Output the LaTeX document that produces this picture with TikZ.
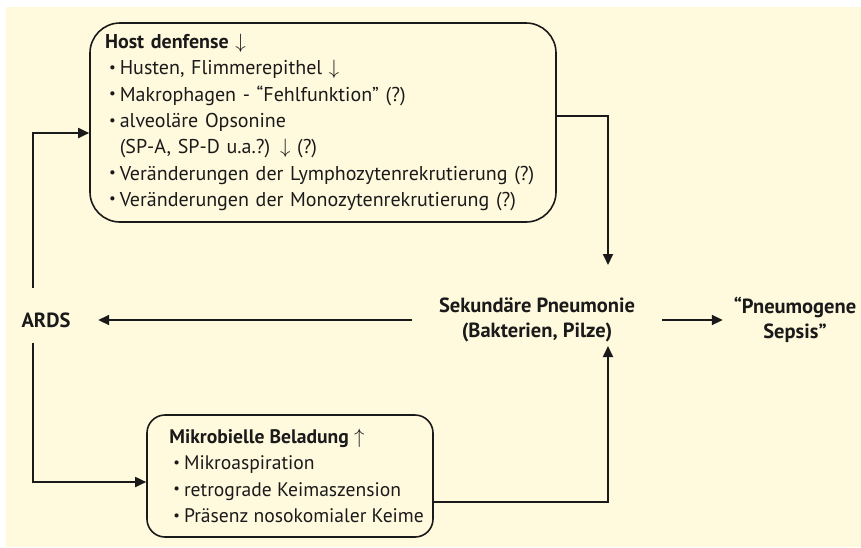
\documentclass[tikz,border=0pt]{standalone}
\usepackage{fontspec}
\usepackage{graphicx}
\setmainfont{PT Sans}
\usetikzlibrary{arrows.meta}
\definecolor{bgcream}{RGB}{255,250,222}
\definecolor{ink}{RGB}{26,26,26}
\tikzset{
  arr/.style={draw=ink, line width=1.8pt, -{Triangle[length=11pt,width=10pt]}},
  roundbox/.style={draw=ink, line width=1.6pt, align=left, inner ysep=0pt, text=ink, font=\fontsize{20}{26.3}\selectfont},
  boxtext/.style={align=left, inner sep=0pt, text=ink, font=\fontsize{19.6}{26.3}\selectfont},
  lbl/.style={align=center, inner sep=0pt, font=\bfseries\fontsize{20.5}{25}\selectfont, text=ink},
}
\newcommand{\bul}{\hspace*{4pt}\raisebox{2.5pt}{\scalebox{0.75}{\textbullet}}\kern4pt}
\newcommand{\bulgap}{\hspace*{4pt}\phantom{\scalebox{0.75}{\textbullet}}\kern4pt}
\begin{document}
\begin{tikzpicture}[x=1pt,y=-1pt]
\path[use as bounding box] (0,0) rectangle (861,547);
\fill[bgcream] (6,7) rectangle (861,547);

\node[roundbox, rounded corners=30pt, minimum width=466pt, minimum height=199pt,
      text width=436pt, inner xsep=15pt] (host) at (323,122.5)
 {\textbf{Host denfense} $\downarrow$\\
  \bul Husten, Flimmerepithel $\downarrow$\\
  \bul Makrophagen - “Fehlfunktion” (?)\\
  \bul alveoläre Opsonine\\
  \bulgap(SP-A, SP-D u.a.?) $\downarrow$ (?)\\
  \bul Veränderungen der Lymphozytenrekrutierung (?)\\
  \bul Veränderungen der Monozytenrekrutierung (?)};

\node[roundbox, rounded corners=18pt, minimum width=286pt, minimum height=122pt] (mikro) at (290,476) {};
\node[boxtext, anchor=west] (mikrotext) at ([xshift=23pt]mikro.west)
 {\textbf{Mikrobielle Beladung} $\uparrow$\\
  \bul Mikroaspiration\\
  \bul retrograde Keimaszension\\
  \bul Präsenz nosokomialer Keime};

\node[lbl, minimum width=250pt] (sek) at (537,320) {Sekundäre Pneumonie\\(Bakterien, Pilze)};
\node[lbl, minimum width=104pt, minimum height=64pt] (ards) at (46,320) {ARDS};
\node[lbl, minimum width=144pt] (sepsis) at (795,320) {“Pneumogene\\Sepsis”};

\coordinate (sektop) at (608,265);
\coordinate (sekbot) at (608,346);

\draw[arr] ([yshift=6.5pt]host.east) -| (sektop);
\draw[arr] ([yshift=-26pt]mikro.east) -| (sekbot);
\draw[arr] (sek.west) -- (ards.east);
\draw[arr] (sek.east) -- (sepsis.west);
\draw[arr] ([xshift=-13pt]ards.north) |- ([yshift=-10.5pt]host.west);
\draw[arr] ([xshift=-13pt,yshift=9pt]ards.south) |- ([yshift=-6pt]mikro.west);
\end{tikzpicture}
\end{document}
